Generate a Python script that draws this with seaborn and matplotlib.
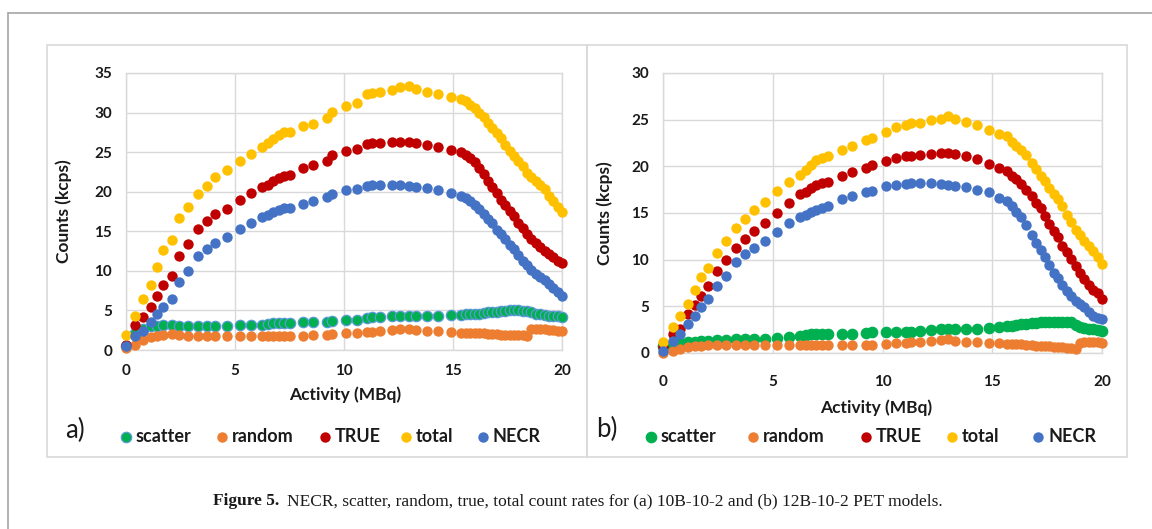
import numpy as np
import pandas as pd
import matplotlib
matplotlib.use("Agg")
import matplotlib.pyplot as plt
import seaborn as sns
from matplotlib.lines import Line2D
from matplotlib.patches import Rectangle

# ---------------- data ----------------
series_names = ["scatter", "random", "TRUE", "total", "NECR"]
series_colors = ["#00B050", "#ED7D31", "#C00000", "#FFC000", "#4472C4"]

activity_a = [0, 0.4, 0.8, 1.15, 1.4, 1.7, 2.1, 2.45, 2.85, 3.3,
              3.7, 4.1, 4.65, 5.25, 5.75, 6.25, 6.5, 6.75, 7.0, 7.25,
              7.5, 8.1, 8.6, 9.2, 9.45, 10.1, 10.6, 11.05, 11.3, 11.65,
              12.2, 12.55, 13.0, 13.3, 13.8, 14.3, 14.9, 15.35, 15.6, 15.8,
              16.0, 16.2, 16.4, 16.6, 16.8, 17.0, 17.2, 17.4, 17.6, 17.8,
              18.0, 18.2, 18.4, 18.6, 18.8, 19.0, 19.2, 19.4, 19.6, 19.8,
              20.0]
total_a = [1.9, 4.3, 6.4, 8.2, 10.5, 12.6, 13.9, 16.7, 18.1, 19.7,
           20.7, 21.8, 22.7, 23.9, 24.8, 25.7, 26.1, 26.6, 27.2, 27.5,
           27.6, 28.3, 28.6, 29.3, 30.1, 30.8, 31.2, 32.3, 32.5, 32.6,
           32.9, 33.2, 33.3, 33.0, 32.6, 32.4, 32.0, 31.7, 31.4, 31.0,
           30.6, 30.0, 29.4, 28.7, 28.0, 27.4, 26.8, 25.9, 25.2, 24.5,
           23.9, 23.2, 22.4, 21.8, 21.3, 20.8, 20.3, 19.5, 18.8, 18.1,
           17.4]
true_a = [0.6, 3.1, 4.2, 5.4, 6.8, 8.2, 9.4, 11.9, 13.4, 15.3,
          16.3, 17.2, 17.8, 18.9, 19.8, 20.6, 20.9, 21.3, 21.7, 22.0,
          22.1, 23.0, 23.4, 23.9, 24.7, 25.1, 25.4, 26.0, 26.1, 26.2,
          26.3, 26.3, 26.3, 26.2, 25.9, 25.7, 25.3, 25.0, 24.7, 24.2,
          23.7, 23.0, 22.2, 21.4, 20.6, 19.8, 19.0, 18.3, 17.6, 16.9,
          16.1, 15.4, 14.6, 14.0, 13.5, 13.0, 12.5, 12.1, 11.7, 11.3,
          11.0]
necr_a = [0.5, 1.8, 2.4, 3.5, 4.5, 5.4, 6.4, 8.6, 10.0, 11.9,
          12.8, 13.5, 14.3, 15.3, 16.0, 16.8, 17.1, 17.4, 17.7, 17.9,
          18.0, 18.5, 18.8, 19.3, 19.7, 20.2, 20.3, 20.7, 20.8, 20.8,
          20.9, 20.8, 20.7, 20.6, 20.5, 20.2, 19.9, 19.5, 19.2, 18.8,
          18.3, 17.8, 17.2, 16.6, 16.0, 15.2, 14.6, 14.0, 13.3, 12.7,
          12.0, 11.3, 10.7, 10.1, 9.6, 9.2, 8.8, 8.3, 7.8, 7.3,
          6.8]
scatter_a = [0.5, 2.1, 2.7, 3.0, 3.0, 3.1, 3.1, 3.0, 3.0, 3.0,
             3.0, 3.0, 3.0, 3.1, 3.2, 3.2, 3.3, 3.4, 3.4, 3.4,
             3.4, 3.5, 3.5, 3.6, 3.7, 3.8, 3.85, 4.1, 4.2, 4.2,
             4.3, 4.3, 4.3, 4.3, 4.35, 4.35, 4.4, 4.4, 4.5, 4.5,
             4.6, 4.6, 4.7, 4.75, 4.8, 4.85, 4.9, 4.95, 5.0, 5.0,
             5.0, 4.95, 4.9, 4.8, 4.6, 4.5, 4.4, 4.35, 4.3, 4.25,
             4.2]
random_a = [0.3, 0.6, 1.25, 1.7, 1.8, 1.9, 2.0, 1.9, 1.8, 1.8,
            1.8, 1.8, 1.8, 1.8, 1.8, 1.8, 1.8, 1.8, 1.8, 1.8,
            1.8, 1.8, 1.9, 1.9, 2.0, 2.1, 2.1, 2.3, 2.3, 2.4,
            2.5, 2.6, 2.6, 2.5, 2.4, 2.4, 2.3, 2.2, 2.2, 2.2,
            2.1, 2.1, 2.1, 2.0, 2.0, 2.0, 1.9, 1.9, 1.9, 1.9,
            1.85, 1.85, 1.8, 2.6, 2.6, 2.6, 2.6, 2.55, 2.5, 2.45,
            2.4]

activity_b = [0, 0.45, 0.78, 1.16, 1.45, 1.74, 2.06, 2.44, 2.86, 3.32,
              3.74, 4.15, 4.65, 5.18, 5.73, 6.23, 6.5, 6.73, 6.98, 7.26,
              7.5, 8.14, 8.59, 9.25, 9.5, 10.17, 10.6, 11.05, 11.3, 11.7,
              12.2, 12.66, 13.0, 13.3, 13.8, 14.3, 14.85, 15.3, 15.65, 15.9,
              16.1, 16.3, 16.55, 16.8, 17.0, 17.2, 17.4, 17.6, 17.8, 18.0,
              18.2, 18.4, 18.6, 18.8, 19.0, 19.2, 19.4, 19.6, 19.8, 20.0]
total_b = [1.2, 2.8, 4.0, 5.3, 6.8, 8.1, 9.1, 10.7, 12.0, 13.4,
           14.4, 15.3, 16.2, 17.4, 18.3, 19.1, 19.6, 20.1, 20.7, 20.9,
           21.1, 21.8, 22.2, 22.8, 23.0, 23.7, 24.2, 24.4, 24.6, 24.6,
           25.0, 25.1, 25.4, 25.1, 24.8, 24.4, 23.9, 23.5, 23.2, 22.6,
           22.2, 21.8, 21.2, 20.4, 19.7, 19.0, 18.4, 17.7, 17.0, 16.5,
           15.7, 14.8, 14.0, 13.2, 12.6, 12.0, 11.5, 10.9, 10.3, 9.5]
true_b = [0.6, 2.0, 2.6, 4.2, 5.1, 6.1, 7.2, 8.8, 10.0, 11.3,
          12.2, 13.1, 13.9, 15.0, 16.1, 17.0, 17.3, 17.7, 18.0, 18.2,
          18.3, 19.0, 19.4, 19.8, 20.1, 20.6, 20.9, 21.1, 21.1, 21.2,
          21.3, 21.4, 21.4, 21.3, 21.1, 20.8, 20.3, 19.8, 19.5, 19.0,
          18.6, 18.1, 17.5, 16.8, 16.1, 15.5, 14.7, 13.8, 13.1, 12.4,
          11.5, 10.8, 10.1, 9.3, 8.6, 7.9, 7.3, 6.8, 6.4, 5.8]
necr_b = [0.25, 1.3, 2.0, 3.1, 4.0, 4.9, 5.8, 7.2, 8.3, 9.7,
          10.6, 11.3, 12.0, 13.0, 13.9, 14.6, 14.8, 15.1, 15.3, 15.5,
          15.7, 16.5, 16.8, 17.3, 17.4, 17.9, 18.0, 18.1, 18.2, 18.2,
          18.2, 18.1, 18.0, 17.9, 17.8, 17.5, 17.2, 16.6, 16.3, 15.7,
          15.1, 14.6, 13.7, 12.6, 11.8, 11.0, 10.3, 9.4, 8.6, 8.0,
          7.3, 6.6, 6.1, 5.6, 5.2, 4.9, 4.4, 4.0, 3.8, 3.6]
scatter_b = [0.8, 1.0, 1.1, 1.15, 1.2, 1.25, 1.3, 1.35, 1.4, 1.45,
             1.5, 1.5, 1.5, 1.6, 1.7, 1.8, 1.9, 2.0, 2.0, 2.0,
             2.0, 2.0, 2.0, 2.1, 2.2, 2.2, 2.3, 2.3, 2.3, 2.4,
             2.45, 2.55, 2.6, 2.6, 2.6, 2.6, 2.7, 2.8, 2.85, 2.9,
             3.0, 3.1, 3.15, 3.2, 3.25, 3.3, 3.3, 3.35, 3.35, 3.35,
             3.35, 3.35, 3.3, 3.0, 2.8, 2.7, 2.6, 2.55, 2.5, 2.4]
random_b = [0.05, 0.25, 0.4, 0.6, 0.7, 0.8, 0.85, 0.85, 0.85, 0.85,
            0.85, 0.85, 0.85, 0.85, 0.9, 0.9, 0.9, 0.9, 0.9, 0.9,
            0.9, 0.9, 0.9, 0.9, 0.9, 0.96, 1.07, 1.1, 1.15, 1.2,
            1.3, 1.4, 1.5, 1.3, 1.2, 1.2, 1.1, 1.07, 1.0, 1.0,
            0.96, 0.95, 0.9, 0.85, 0.8, 0.75, 0.7, 0.7, 0.65, 0.6,
            0.6, 0.55, 0.5, 0.45, 1.1, 1.2, 1.2, 1.2, 1.2, 1.1]

x_ticks = [0, 5, 10, 15, 20]
y_ticks_a = [0, 5, 10, 15, 20, 25, 30, 35]
y_ticks_b = [0, 5, 10, 15, 20, 25, 30]
caption_bold = "Figure 5."
caption_rest = ("NECR, scatter, random, true, total count rates for (a) 10B-10-2 "
                "and (b) 12B-10-2 PET models.")

# ---------------- figure ----------------
sns.set_theme(style="white")
plt.rcParams['font.family'] = ['Lato', 'DejaVu Sans']

W, H = 1152, 529
fig = plt.figure(figsize=(W / 100, H / 100), dpi=100)
fig.patch.set_facecolor("white")


def long_df(x, vals):
    frames = []
    for name, v in zip(series_names, vals):
        frames.append(pd.DataFrame({"Activity": x, "Counts": v, "Series": name}))
    return pd.concat(frames, ignore_index=True)


dfa = long_df(activity_a, [scatter_a, random_a, true_a, total_a, necr_a])
dfb = long_df(activity_b, [scatter_b, random_b, true_b, total_b, necr_b])

GRID = "#D9D9D9"
TXT = "#1a1a1a"


def draw_panel(ax, df, yticks, ymax, scatter_edge, xpad, ypad, ylab_x, xlab_xy):
    for i, (name, col) in enumerate(zip(series_names, series_colors)):
        sub = df[df["Series"] == name]
        ec = scatter_edge if name == "scatter" else col
        lw = 0.9 if name == "scatter" else 0
        sns.scatterplot(data=sub, x="Activity", y="Counts", color=col, s=56,
                        edgecolor=ec, linewidth=lw, ax=ax, legend=False,
                        zorder=3 + i, clip_on=False)
    ax.set_xlim(0, 20)
    ax.set_ylim(0, ymax)
    ax.set_xticks(x_ticks)
    ax.set_yticks(yticks)
    ax.grid(True, color=GRID, linewidth=1.0)
    ax.set_axisbelow(True)
    for sp in ax.spines.values():
        sp.set_color(GRID)
        sp.set_linewidth(1.0)
    ax.tick_params(length=0, labelsize=11, colors=TXT)
    ax.tick_params(axis="x", pad=xpad)
    ax.tick_params(axis="y", pad=ypad)
    for lab in ax.get_xticklabels() + ax.get_yticklabels():
        lab.set_fontweight("bold")
    ax.set_xlabel("Activity (MBq)", fontsize=12.5, fontweight="bold", color=TXT)
    ax.set_ylabel("Counts (kcps)", fontsize=12.5, fontweight="bold", color=TXT)
    ax.yaxis.set_label_coords(ylab_x, 0.5)
    ax.xaxis.set_label_coords(*xlab_xy)


axa = fig.add_axes([126 / W, 1 - 350 / H, 436 / W, 277 / H])
axb = fig.add_axes([663 / W, 1 - 353 / H, 439 / W, 280 / H])
draw_panel(axa, dfa, y_ticks_a, 35, "#5B9BD5", 10, 10, -0.125, (0.502, -0.13))
draw_panel(axb, dfb, y_ticks_b, 30, "#00B050", 16, 10, -0.114, (0.485, -0.165))

# ---------------- frames ----------------
frame_col = "#A6A6A6"
fig.add_artist(Line2D([8 / W, 8 / W], [0, 1 - 13 / H], transform=fig.transFigure,
                      color=frame_col, linewidth=1.2))
fig.add_artist(Line2D([8 / W, 1], [1 - 13 / H, 1 - 13 / H], transform=fig.transFigure,
                      color=frame_col, linewidth=1.2))
for x0, x1 in [(47, 587), (587, 1127)]:
    fig.add_artist(Rectangle((x0 / W, 1 - 457 / H), (x1 - x0) / W, (457 - 45) / H,
                             transform=fig.transFigure, fill=False,
                             edgecolor=GRID, linewidth=1.2))

# ---------------- legends (entries placed individually) ----------------
legend_marker_x_a = [126, 222, 325, 406, 483]
legend_marker_x_b = [651, 753, 866, 952, 1038]
LEG_Y = 437


def draw_legend(xs, scatter_edge):
    for x, name, col in zip(xs, series_names, series_colors):
        ec = scatter_edge if name == "scatter" else col
        fig.add_artist(Line2D([x / W], [1 - LEG_Y / H], transform=fig.transFigure,
                              linestyle="none", marker="o", markersize=7.5,
                              markerfacecolor=col, markeredgecolor=ec,
                              markeredgewidth=0.9 if name == "scatter" else 0))
        fig.text((x + 10) / W, 1 - LEG_Y / H, name, fontsize=13, fontweight="bold",
                 ha="left", va="center", color=TXT)


draw_legend(legend_marker_x_a, "#5B9BD5")
draw_legend(legend_marker_x_b, "#00B050")

fig.text(75 / W, 1 - 430 / H, "a)", fontsize=18.5, ha="center", va="center", color=TXT)
fig.text(607 / W, 1 - 429 / H, "b)", fontsize=18.5, ha="center", va="center", color=TXT)

# ---------------- caption ----------------
serif = ["Liberation Serif", "DejaVu Serif"]
t1 = fig.text(213 / W, 1 - 501 / H, caption_bold, fontsize=12.5, fontweight="bold",
              family=serif, ha="left", va="center", color=TXT)
fig.canvas.draw()
bb = t1.get_window_extent()
fig.text((bb.x1 + 8) / W, 1 - 501 / H, caption_rest, fontsize=12.5,
         family=serif, ha="left", va="center", color=TXT)

fig.savefig("out.png", dpi=100)
